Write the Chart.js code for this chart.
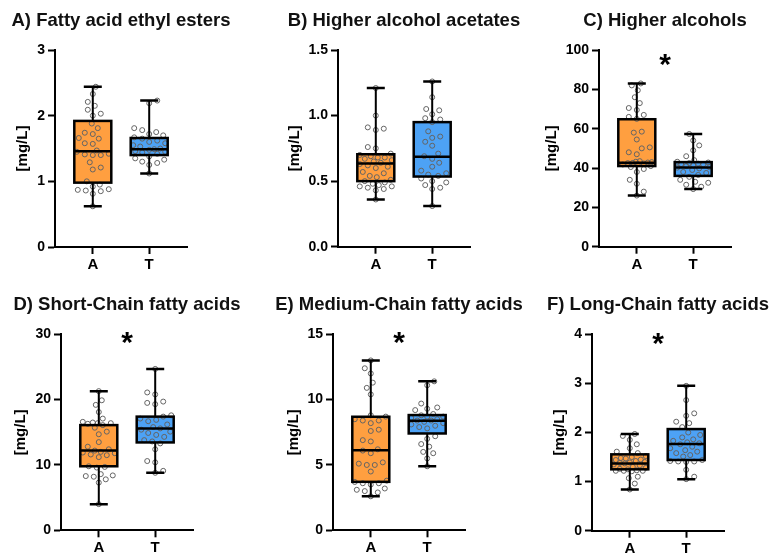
<!DOCTYPE html>
<html><head><meta charset="utf-8">
<script src="https://cdn.jsdelivr.net/npm/chart.js@4.4.1/dist/chart.umd.min.js"></script>
<style>
html,body{margin:0;padding:0;background:#fff;width:771px;height:557px;overflow:hidden;position:relative}
canvas{position:absolute}
</style></head><body>
<script>
const groups = ['A', 'T'];

// Individual measurements per group (mg/L)
const esterA = [2.44, 2.33, 2.21, 2.15, 2.09, 2.03, 2.00, 1.88, 1.81, 1.74, 1.72, 1.66, 1.65, 1.58, 1.57, 1.47, 1.45, 1.42, 1.41, 1.40, 1.40, 1.29, 1.21, 1.18, 1.00, 0.95, 0.92, 0.88, 0.87, 0.86, 0.85, 0.81, 0.62];
const esterT = [2.23, 2.19, 1.81, 1.78, 1.75, 1.72, 1.70, 1.67, 1.65, 1.62, 1.60, 1.58, 1.55, 1.53, 1.50, 1.49, 1.48, 1.46, 1.45, 1.44, 1.42, 1.38, 1.35, 1.33, 1.30, 1.28, 1.25, 1.12];
const acetateA = [1.21, 1.00, 0.91, 0.90, 0.89, 0.76, 0.75, 0.71, 0.70, 0.69, 0.68, 0.68, 0.67, 0.66, 0.65, 0.64, 0.63, 0.62, 0.61, 0.60, 0.57, 0.56, 0.54, 0.53, 0.51, 0.50, 0.49, 0.48, 0.47, 0.46, 0.46, 0.45, 0.44, 0.43, 0.36];
const acetateT = [1.26, 1.14, 1.05, 1.04, 1.01, 0.98, 0.97, 0.95, 0.88, 0.84, 0.83, 0.80, 0.77, 0.71, 0.69, 0.67, 0.64, 0.61, 0.58, 0.56, 0.55, 0.54, 0.52, 0.50, 0.49, 0.47, 0.45, 0.44, 0.31];
const alcoholA = [83.0, 82.0, 79.5, 76.0, 73.0, 70.5, 69.5, 67.0, 66.0, 65.0, 58.5, 58.0, 54.5, 50.5, 50.0, 48.0, 47.0, 43.5, 43.2, 43.0, 42.8, 42.6, 42.5, 42.3, 42.0, 41.8, 41.0, 40.5, 39.5, 38.0, 34.0, 32.0, 28.0, 26.0];
const alcoholT = [57.3, 54.0, 51.5, 49.0, 46.0, 44.0, 43.2, 42.8, 42.5, 42.2, 42.0, 41.8, 41.5, 41.0, 40.5, 40.2, 39.8, 39.0, 38.0, 37.5, 36.5, 35.5, 34.0, 33.0, 32.5, 31.5, 30.5, 29.3];
const shortA = [21.3, 19.9, 19.2, 18.1, 17.1, 16.6, 16.5, 16.4, 16.4, 16.3, 16.1, 15.7, 15.1, 14.7, 13.5, 12.8, 12.4, 12.2, 12.0, 11.9, 11.8, 11.6, 11.5, 11.2, 9.8, 9.7, 9.6, 8.6, 8.4, 8.3, 8.2, 7.8, 7.3, 4.0];
const shortT = [24.7, 21.1, 20.8, 19.7, 19.5, 19.3, 17.6, 17.4, 17.1, 16.9, 16.7, 16.2, 15.8, 15.6, 15.4, 15.1, 14.9, 14.6, 14.3, 13.8, 13.6, 13.3, 12.4, 10.6, 10.4, 9.1, 8.8];
const mediumA = [13.0, 12.4, 12.0, 11.3, 10.9, 10.4, 8.8, 8.7, 8.5, 8.4, 8.4, 8.2, 7.7, 7.6, 6.9, 6.8, 6.2, 6.1, 5.9, 5.2, 5.1, 5.0, 5.0, 4.5, 3.8, 3.7, 3.6, 3.6, 3.5, 3.2, 3.1, 3.0, 2.9, 2.6];
const mediumT = [11.4, 11.1, 9.7, 9.4, 9.3, 9.2, 8.9, 8.8, 8.7, 8.7, 8.6, 8.5, 8.4, 8.4, 8.3, 8.2, 8.1, 8.0, 7.9, 7.8, 7.2, 7.0, 6.6, 6.4, 6.0, 5.9, 5.5, 4.9];
const longA = [1.97, 1.93, 1.85, 1.76, 1.68, 1.61, 1.58, 1.52, 1.50, 1.48, 1.47, 1.45, 1.44, 1.42, 1.40, 1.39, 1.38, 1.37, 1.35, 1.33, 1.30, 1.28, 1.26, 1.25, 1.23, 1.22, 1.22, 1.22, 1.21, 1.10, 1.07, 0.96, 0.84];
const longT = [2.95, 2.66, 2.39, 2.34, 2.22, 2.19, 2.11, 2.00, 1.95, 1.90, 1.86, 1.83, 1.80, 1.78, 1.76, 1.71, 1.68, 1.64, 1.61, 1.58, 1.54, 1.51, 1.44, 1.42, 1.41, 1.41, 1.40, 1.24, 1.10, 1.05];

// Box summaries: [min, q1, median, q3, max]
const esterBoxA = [0.62, 0.98, 1.46, 1.92, 2.44];
const esterBoxT = [1.12, 1.40, 1.49, 1.66, 2.23];
const acetateBoxA = [0.36, 0.50, 0.635, 0.705, 1.21];
const acetateBoxT = [0.31, 0.535, 0.685, 0.95, 1.26];
const alcoholBoxA = [26.0, 41.0, 42.7, 64.8, 83.0];
const alcoholBoxT = [29.3, 36.0, 40.3, 43.0, 57.3];
const shortBoxA = [4.0, 9.8, 12.2, 16.1, 21.3];
const shortBoxT = [8.8, 13.45, 15.6, 17.4, 24.7];
const mediumBoxA = [2.6, 3.71, 6.13, 8.69, 13.0];
const mediumBoxT = [4.9, 7.41, 8.38, 8.82, 11.4];
const longBoxA = [0.84, 1.25, 1.37, 1.555, 1.97];
const longBoxT = [1.05, 1.44, 1.766, 2.07, 2.95];

// y-axis tick labels
const esterTicks = ['0', '1', '2', '3'];
const acetateTicks = ['0.0', '0.5', '1.0', '1.5'];
const alcoholTicks = ['0', '20', '40', '60', '80', '100'];
const shortTicks = ['0', '10', '20', '30'];
const mediumTicks = ['0', '5', '10', '15'];
const longTicks = ['0', '1', '2', '3', '4'];

// significance marker height (data units), null = none
const starLevels = [null, null, 95, 29.4, 14.7, 3.9];

const FONT = "'Liberation Sans', Arial, sans-serif";
const FILLS = ['#FF9F40', '#4DA2F5'];
const CW = 280, CH = 280, AX_LEFT = 75, AREA_W = 132, X_AXIS_H = 24;
const X_MIN = -0.67, X_MAX = 1.67;

const panels = [
  {title: 'A) Fatty acid ethyl esters', a: esterA, t: esterT, ba: esterBoxA, bt: esterBoxT, ticks: esterTicks, left: 55, top: 50, bottom: 247, gap: 32, ctop: 0},
  {title: 'B) Higher alcohol acetates', a: acetateA, t: acetateT, ba: acetateBoxA, bt: acetateBoxT, ticks: acetateTicks, left: 337.7, top: 50, bottom: 246.7, gap: 42.7, ctop: 0},
  {title: 'C) Higher alcohols', a: alcoholA, t: alcoholT, ba: alcoholBoxA, bt: alcoholBoxT, ticks: alcoholTicks, left: 599.3, top: 50, bottom: 246.7, gap: 47.6, ctop: 0},
  {title: 'D) Short-Chain fatty acids', a: shortA, t: shortT, ba: shortBoxA, bt: shortBoxT, ticks: shortTicks, left: 60.7, top: 334.3, bottom: 530.3, gap: 40, ctop: 277},
  {title: 'E) Medium-Chain fatty acids', a: mediumA, t: mediumT, ba: mediumBoxA, bt: mediumBoxT, ticks: mediumTicks, left: 332.7, top: 334.3, bottom: 530.3, gap: 39.4, ctop: 277},
  {title: 'F) Long-Chain fatty acids', a: longA, t: longT, ba: longBoxA, bt: longBoxT, ticks: longTicks, left: 591.7, top: 334.3, bottom: 530.7, gap: 31.7, ctop: 277}
];

// Spread points sideways (within the box width) so circles at similar heights separate
function swarm(vals, pxPerUnit, minDist, limit) {
  const order = vals.map((_, i) => i).sort((p, q) => vals[p] - vals[q]);
  const placed = [], out = new Array(vals.length).fill(0);
  let side = 1;
  order.forEach(i => {
    const py = vals[i] * pxPerUnit;
    let off = null;
    for (let d = minDist; d >= 1.5 && off === null; d -= 0.5) {
      const near = placed.filter(p => Math.abs(p.y - py) < d);
      for (let k = 0; k <= limit; k++) {
        const cands = k === 0 ? [0] : [side * k, -side * k];
        const hit = cands.find(c => near.every(p => Math.hypot(p.x - c, p.y - py) >= d));
        if (hit !== undefined) { off = hit; break; }
      }
    }
    if (off === null) off = 0;
    if (off !== 0) side = -Math.sign(off);
    placed.push({x: off, y: py});
    out[i] = off;
  });
  return out;
}

const boxPlugin = {
  id: 'boxes',
  beforeDatasetsDraw(chart, args, o) {
    const {ctx, scales: {x, y}} = chart;
    o.boxes.forEach((b, i) => {
      const cx = x.getPixelForValue(i);
      const y1 = y.getPixelForValue(b[3]), y0 = y.getPixelForValue(b[1]);
      ctx.save();
      ctx.fillStyle = FILLS[i];
      ctx.fillRect(cx - o.halfWidth, y1, o.halfWidth * 2, y0 - y1);
      ctx.restore();
    });
  },
  afterDatasetsDraw(chart, args, o) {
    const {ctx, scales: {x, y}} = chart;
    ctx.save();
    ctx.strokeStyle = '#000';
    o.boxes.forEach((b, i) => {
      const cx = x.getPixelForValue(i);
      const [pMin, pQ1, pMed, pQ3, pMax] = b.map(v => y.getPixelForValue(v));
      // whiskers
      ctx.lineWidth = 2;
      ctx.beginPath();
      ctx.moveTo(cx, pQ3); ctx.lineTo(cx, pMax);
      ctx.moveTo(cx, pQ1); ctx.lineTo(cx, pMin);
      ctx.stroke();
      // caps
      ctx.lineWidth = 2.5;
      ctx.beginPath();
      ctx.moveTo(cx - o.capHalf, pMax); ctx.lineTo(cx + o.capHalf, pMax);
      ctx.moveTo(cx - o.capHalf, pMin); ctx.lineTo(cx + o.capHalf, pMin);
      ctx.stroke();
      // box outline and median
      ctx.lineWidth = 2.5;
      ctx.strokeRect(cx - o.halfWidth, pQ3, o.halfWidth * 2, pQ1 - pQ3);
      ctx.beginPath();
      ctx.moveTo(cx - o.halfWidth, pMed); ctx.lineTo(cx + o.halfWidth, pMed);
      ctx.stroke();
    });
    ctx.restore();
  },
  afterDraw(chart, args, o) {
    const {ctx, chartArea, scales: {x, y}} = chart;
    ctx.save();
    ctx.fillStyle = '#111';
    ctx.textAlign = 'center';
    ctx.textBaseline = 'alphabetic';
    ctx.font = `bold 18.5px ${FONT}`;
    ctx.fillText(o.title, (chartArea.left + chartArea.right) / 2, chartArea.top - 24);
    if (o.star !== null) {
      ctx.font = `bold 30px ${FONT}`;
      const m = ctx.measureText('*');
      const cy = y.getPixelForValue(o.star);
      ctx.fillStyle = '#000';
      ctx.fillText('*', x.getPixelForValue(0.5), cy + (m.actualBoundingBoxAscent - m.actualBoundingBoxDescent) / 2);
    }
    ctx.restore();
  }
};

panels.forEach((p, idx) => {
  const cv = document.createElement('canvas');
  cv.width = CW; cv.height = CH;
  cv.style.left = (p.left - AX_LEFT) + 'px';
  cv.style.top = p.ctop + 'px';
  cv.style.width = CW + 'px'; cv.style.height = CH + 'px';
  document.body.appendChild(cv);

  const tickVals = p.ticks.map(Number);
  const yMax = tickVals[tickVals.length - 1];
  const pxY = (p.bottom - p.top) / yMax;
  const pxX = AREA_W / (X_MAX - X_MIN);
  const offA = swarm(p.a, pxY, 7.5, 16), offT = swarm(p.t, pxY, 7.5, 16);
  const padL = AX_LEFT - p.gap - 9;
  const relBottom = p.bottom - p.ctop;

  const axisFont = {family: FONT, size: 14, weight: 'bold'};
  new Chart(cv, {
    type: 'scatter',
    data: {
      datasets: [
        {data: p.a.map((v, i) => ({x: 0 + offA[i] / pxX, y: v}))},
        {data: p.t.map((v, i) => ({x: 1 + offT[i] / pxX, y: v}))}
      ]
    },
    options: {
      responsive: false,
      animation: false,
      devicePixelRatio: 1,
      layout: {padding: {left: padL, top: p.top - p.ctop, right: CW - AX_LEFT - AREA_W, bottom: CH - relBottom - X_AXIS_H}},
      elements: {point: {radius: 2.5, borderWidth: 1, borderColor: '#646464', backgroundColor: 'rgba(0,0,0,0)', hoverRadius: 2.5}},
      plugins: {
        legend: {display: false},
        tooltip: {enabled: false},
        boxes: {boxes: [p.ba, p.bt], halfWidth: 18.5, capHalf: 9, title: p.title, star: starLevels[idx]}
      },
      scales: {
        x: {
          type: 'linear', min: X_MIN, max: X_MAX,
          afterBuildTicks: s => { s.ticks = [{value: 0}, {value: 1}]; },
          afterFit: s => { s.height = X_AXIS_H; },
          ticks: {callback: v => groups[v], font: {family: FONT, size: 15, weight: 'bold'}, color: '#000', padding: 2, maxRotation: 0},
          grid: {drawOnChartArea: false, drawTicks: true, tickLength: 7, tickWidth: 2, tickColor: '#000'},
          border: {display: true, width: 2, color: '#000'}
        },
        y: {
          type: 'linear', min: 0, max: yMax,
          afterBuildTicks: s => { s.ticks = tickVals.map(v => ({value: v})); },
          afterFit: s => { s.width = AX_LEFT - padL; },
          ticks: {callback: (v, i) => p.ticks[i], font: axisFont, color: '#000', padding: 3},
          grid: {drawOnChartArea: false, drawTicks: true, tickLength: 7, tickWidth: 2, tickColor: '#000'},
          border: {display: true, width: 2, color: '#000'},
          title: {display: true, text: '[mg/L]', font: {family: FONT, size: 15, weight: 'bold'}, color: '#000', padding: {top: 0, bottom: 0}}
        }
      }
    },
    plugins: [boxPlugin]
  });
});
</script>
</body></html>
